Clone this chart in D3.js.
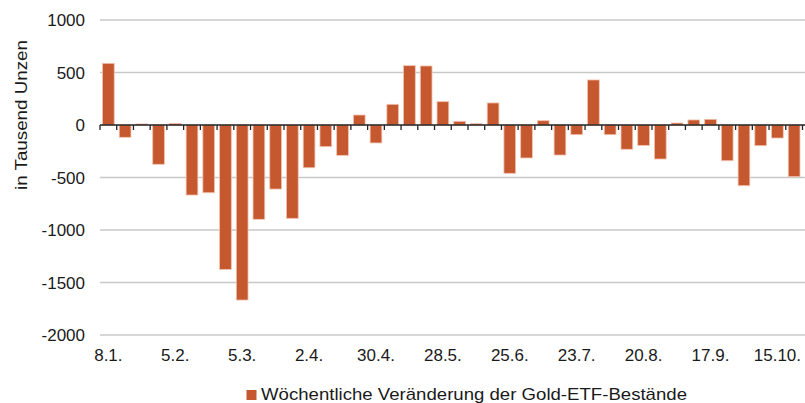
<!DOCTYPE html>
<html>
<head>
<meta charset="utf-8">
<script src="https://cdn.jsdelivr.net/npm/d3@7"></script>
<style>
  body { margin: 0; background: #fff; }
  text { font-family: "Liberation Sans", Arial, sans-serif; fill: #1a1a1a; }
</style>
</head>
<body>
<svg id="chart" width="805" height="403"></svg>
<script>
// Wochen (Datum) und wöchentliche Veränderung in Tausend Unzen
const weeks = ["8.1.","15.1.","22.1.","29.1.","5.2.","12.2.","19.2.","26.2.","5.3.","12.3.","19.3.","26.3.",
  "2.4.","9.4.","16.4.","23.4.","30.4.","7.5.","14.5.","21.5.","28.5.","4.6.","11.6.","18.6.",
  "25.6.","2.7.","9.7.","16.7.","23.7.","30.7.","6.8.","13.8.","20.8.","27.8.","3.9.","10.9.",
  "17.9.","24.9.","1.10.","8.10.","15.10.","22.10."];
const values = [587, -117, 10, -374, 15, -667, -645, -1375, -1667, -898, -610, -889,
  -407, -206, -289, 95, -171, 197, 565, 562, 222, 35, 12, 210,
  -460, -314, 41, -286, -92, 429, -92, -231, -194, -324, 19, 48,
  54, -340, -578, -197, -124, -492];
const yTicks = [-2000, -1500, -1000, -500, 0, 500, 1000];
const shownLabels = ["8.1.","5.2.","5.3.","2.4.","30.4.","28.5.","25.6.","23.7.","20.8.","17.9.","15.10."];
const seriesName = "Wöchentliche Veränderung der Gold-ETF-Bestände";

const barColor = "#c5582e";

const svg = d3.select("#chart");
const plotLeft = 100, plotRight = 802.5, plotTop = 20, plotBottom = 335;

const x = d3.scaleBand().domain(weeks).range([plotLeft, plotRight]).paddingInner(0.3).paddingOuter(0.15);
const y = d3.scaleLinear().domain([-2000, 1000]).range([plotBottom, plotTop]);

// Gitterlinien
svg.append("g").selectAll("line")
  .data(yTicks.filter(d => d !== 0))
  .enter().append("line")
  .attr("x1", plotLeft).attr("x2", 805)
  .attr("y1", d => y(d)).attr("y2", d => y(d))
  .style("stroke", "#c8c8c8").style("stroke-width", 1.3);

// Y-Achse Beschriftung
svg.append("g").selectAll("text")
  .data(yTicks)
  .enter().append("text")
  .attr("x", 85).attr("y", d => y(d) + 6)
  .attr("text-anchor", "end")
  .style("font-size", "17px")
  .text(d => d);

svg.append("text")
  .attr("transform", "translate(27, 115) rotate(-90)")
  .attr("text-anchor", "middle")
  .attr("textLength", 150)
  .attr("lengthAdjust", "spacingAndGlyphs")
  .style("font-size", "17px")
  .text("in Tausend Unzen");

// Balken
svg.append("g").selectAll(".bar")
  .data(values)
  .enter().append("rect")
  .attr("class", "bar")
  .attr("x", (d, i) => x(weeks[i]))
  .attr("y", d => y(Math.max(0, d)))
  .attr("width", x.bandwidth())
  .attr("height", d => Math.abs(y(d) - y(0)))
  .style("fill", barColor)
  .style("stroke", "#f2c2ae")
  .style("stroke-width", 0.8);

// Nulllinie mit Teilstrichen
const step = x.step();
const zero = svg.append("g");
zero.append("line")
  .attr("x1", plotLeft).attr("x2", 805)
  .attr("y1", y(0)).attr("y2", y(0))
  .style("stroke", "#222").style("stroke-width", 1.3);
zero.selectAll(".tick")
  .data(d3.range(weeks.length + 1))
  .enter().append("line")
  .attr("x1", i => plotLeft + i * step).attr("x2", i => plotLeft + i * step)
  .attr("y1", y(0)).attr("y2", y(0) + 5)
  .style("stroke", "#222").style("stroke-width", 1.3);

// X-Beschriftung
svg.append("g").selectAll("text")
  .data(shownLabels)
  .enter().append("text")
  .attr("x", d => x(d) + x.bandwidth() / 2)
  .attr("y", 361)
  .attr("text-anchor", "middle")
  .style("font-size", "17px")
  .text(d => d);

// Legende
const legend = svg.append("g");
legend.append("rect")
  .attr("x", 246.5).attr("y", 390).attr("width", 10).attr("height", 10)
  .style("fill", barColor);
legend.append("text")
  .attr("x", 261).attr("y", 400)
  .attr("textLength", 426)
  .attr("lengthAdjust", "spacingAndGlyphs")
  .style("font-size", "17px")
  .text(seriesName);
</script>
</body>
</html>
